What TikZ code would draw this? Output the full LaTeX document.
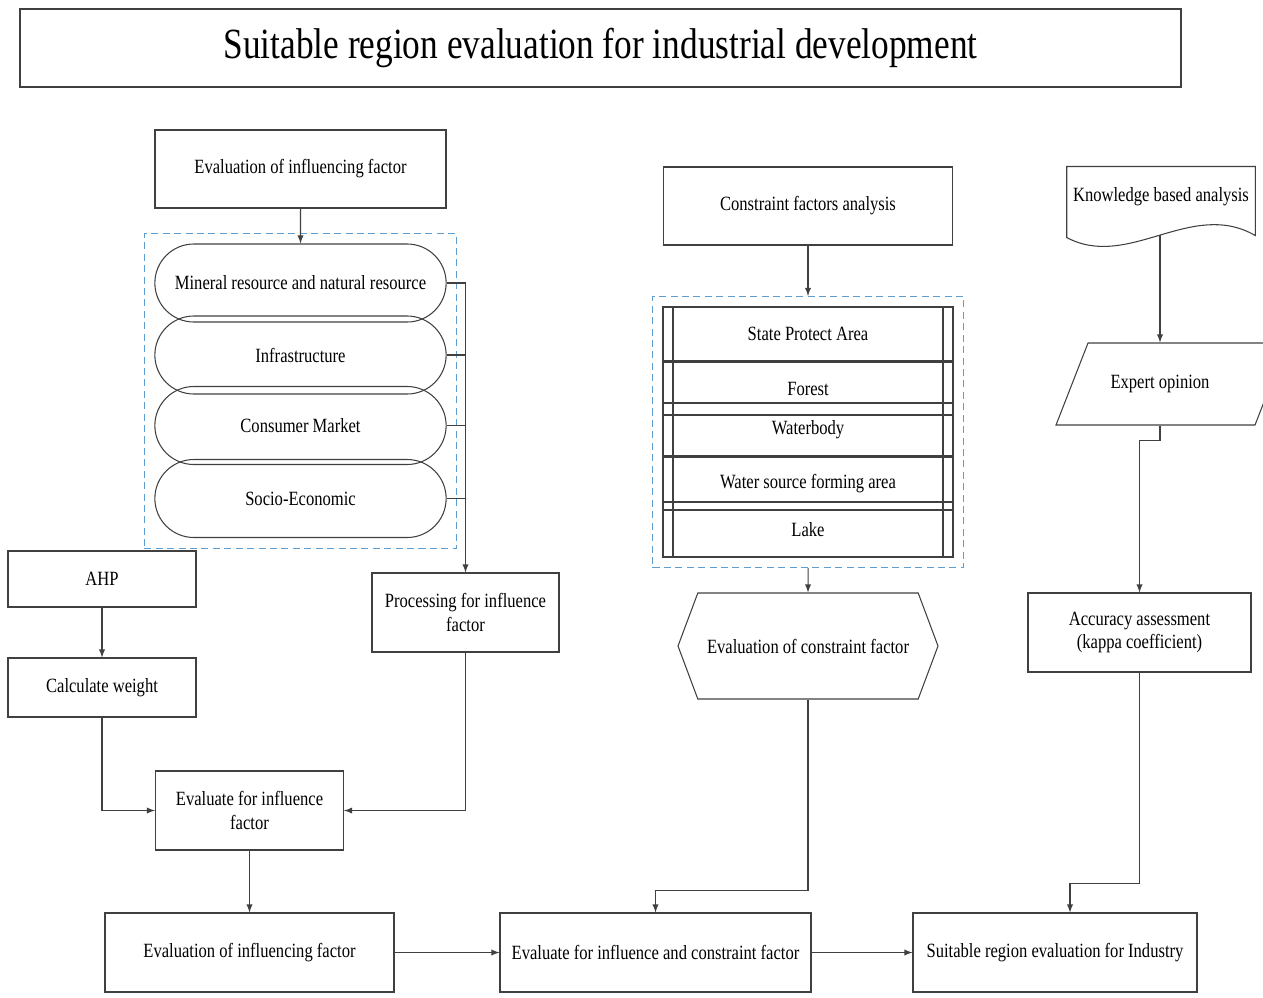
\documentclass[tikz,border=0pt]{standalone}
\usepackage{fontspec}
\setmainfont{Liberation Serif}[FakeStretch=0.82]
\usepackage{xcolor}
\usepackage{tikz}
\usetikzlibrary{shapes.geometric}
\usetikzlibrary{shapes,arrows,positioning,fit,calc}
\definecolor{dashblue}{rgb}{0.36, 0.62, 0.82}
\definecolor{linegray}{rgb}{0.25, 0.25, 0.25}

\tikzset{
  plainbox/.style={draw=linegray, rectangle, align=center},
  pillbox/.style={draw=linegray, rounded rectangle, minimum width=6.06cm, minimum height=1.56cm},
  rowbox/.style={draw=linegray, rectangle, minimum width=5.80cm,
    path picture={
      \draw[linegray] ([xshift=0.2cm]path picture bounding box.north west) -- ([xshift=0.2cm]path picture bounding box.south west);
      \draw[linegray] ([xshift=-0.2cm]path picture bounding box.north east) -- ([xshift=-0.2cm]path picture bounding box.south east);
    }},
  dashbox/.style={draw=dashblue, dash pattern=on 4pt off 2.5pt, inner sep=0.2cm}
}

\begin{document}
\begin{tikzpicture}[line width=0.6pt, >=latex, draw=linegray, font=\fontsize{11.5pt}{13.5pt}\selectfont]
\useasboundingbox (0,0) rectangle (25.26,-19.94);

            % title
            \node[plainbox, minimum width=23.22cm, minimum height=1.56cm, font=\fontsize{24.5pt}{28pt}\selectfont] (title) at (12.01,-0.96) {Suitable region evaluation for industrial development};

            % influencing factors
            \node[plainbox, minimum width=5.82cm, minimum height=1.56cm] (ev1) at (6.01,-3.38) {Evaluation of influencing factor};
            \node[pillbox] (mineral) at (6.01,-5.66) {Mineral resource and natural resource};
            \node[pillbox] (infra) at (6.01,-7.10) {Infrastructure};
            \node[pillbox] (consumer) at (6.01,-8.51) {Consumer Market};
            \node[pillbox] (socio) at (6.01,-9.97) {Socio-Economic};
            \node[dashbox, fit=(mineral)(socio)] (factors) {};

            \node[plainbox, minimum width=3.74cm, minimum height=1.58cm] (proc) at (9.31,-12.25) {Processing for influence\\factor};
            \node[plainbox, minimum width=3.76cm, minimum height=1.12cm] (ahp) at (2.04,-11.58) {AHP};
            \node[plainbox, minimum width=3.76cm, minimum height=1.18cm] (calc) at (2.04,-13.75) {Calculate weight};
            \node[plainbox, minimum width=3.76cm, minimum height=1.58cm] (evinf) at (4.99,-16.21) {Evaluate for influence\\factor};

            % constraint factors
            \node[plainbox, minimum width=5.78cm, minimum height=1.56cm] (cfa) at (16.16,-4.12) {Constraint factors analysis};
            \node[rowbox, minimum height=1.08cm] (state) at (16.16,-6.68) {State Protect Area};
            \node[rowbox, minimum height=1.06cm] (forest) at (16.16,-7.77) {Forest};
            \node[rowbox, minimum height=1.06cm] (water) at (16.16,-8.59) {Waterbody};
            \node[rowbox, minimum height=1.06cm] (wsfa) at (16.16,-9.67) {Water source forming area};
            \node[rowbox, minimum height=1.10cm] (lake) at (16.16,-10.59) {Lake};
            \node[dashbox, fit=(state)(lake)] (constr) {};
            \node[draw=linegray, signal, signal to=west and east, signal pointer angle=139, minimum width=5.2cm, minimum height=2.12cm] (ecf) at (16.16,-12.92) {Evaluation of constraint factor};

            % knowledge
            \node[minimum width=3.72cm, minimum height=1.40cm, text depth=0.3cm] (kba) at (23.22,-4.04) {Knowledge based analysis};
            \draw (kba.north west) -- (kba.south west) .. controls +(1.24,-0.66) and +(-1.28,0.74) .. ([yshift=0.04cm]kba.south east) -- (kba.north east) -- cycle;
            \coordinate (kbaend) at (23.20,-4.69);
            \node[minimum width=3.98cm, minimum height=1.64cm] (expert) at (23.20,-7.68) {Expert opinion};
            \draw ($(expert)+(-2.08,-0.82)$) -- ++(0.64,1.64) -- ++(3.98,0) -- ++(-0.64,-1.64) -- cycle;
            \node[plainbox, minimum width=4.46cm, minimum height=1.58cm] (acc) at (22.79,-12.65) {Accuracy assessment\\(kappa coefficient)};

            % bottom row
            \node[plainbox, minimum width=5.78cm, minimum height=1.58cm] (ev2) at (4.99,-19.05) {Evaluation of influencing factor};
            \node[plainbox, minimum width=6.22cm, minimum height=1.58cm] (evic) at (13.11,-19.05) {Evaluate for influence and constraint factor};
            \node[plainbox, minimum width=5.68cm, minimum height=1.58cm] (suit) at (21.10,-19.05) {Suitable region evaluation for Industry};

            % connectors
            \draw[->] (ev1) -- (mineral);
            \draw[->] (mineral.east) -| (proc.north);
             \draw (infra.east) -- (infra.east -| proc.north);
             \draw (consumer.east) -- (consumer.east -| proc.north);
             \draw (socio.east) -- (socio.east -| proc.north);
            \draw[->] (ahp) -- (calc);
            \draw[->] (calc.south) |- (evinf.west);
            \draw[->] (proc.south) |- (evinf.east);
            \draw[->] (evinf) -- (ev2);
            \draw[->] (ev2) -- (evic);
            \draw[->] (evic) -- (suit);
            \draw[->] (cfa) -- (constr);
            \draw[->] (constr) -- (ecf);
            \draw[->] (ecf.south) -- ++(0,-3.82) -| (evic.north);
            \draw[->] (kbaend) -- (expert.north);
            \draw[->] (expert.south) -- ++(0,-0.30) -| (acc.north);
            \draw[->] (acc.south) -- ++(0,-4.22) -| ([xshift=0.3cm]suit.north);

\end{tikzpicture}
\end{document}
